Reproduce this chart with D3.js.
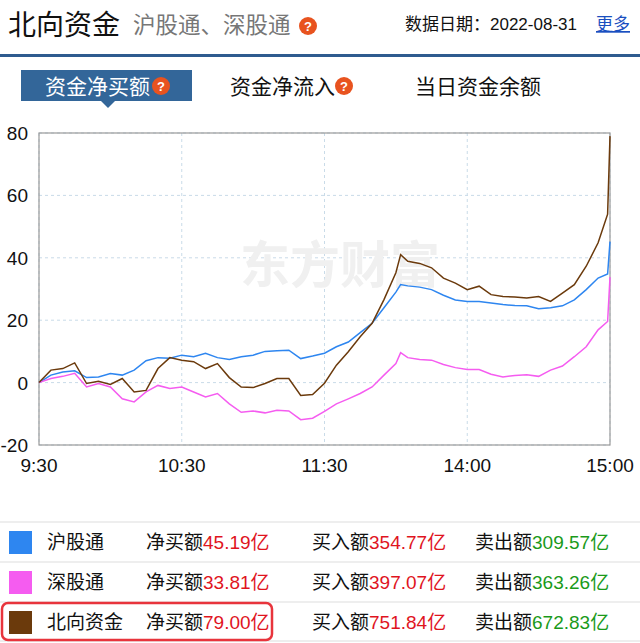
<!DOCTYPE html>
<html><head><meta charset="utf-8">
<script src="https://cdn.jsdelivr.net/npm/d3@7"></script>
<style>body{margin:0;background:#fff;font-family:"Liberation Sans","Noto Sans CJK SC",sans-serif;}</style>
</head><body>
<script>
// minutes from 9:30 (lunch break removed: 120 = 11:30/13:00)
var minutes = [0,5,10,15,20,25,30,35,40,45,50,55,60,65,70,75,80,85,90,95,100,105,110,115,120,
  125,130,135,140,145,150,152,155,160,165,170,175,180,185,190,195,200,205,210,215,220,225,230,235,239,240];
var shValues = [0,2.4,3.4,3.8,1.6,1.8,2.9,2.4,4,7,8,7.8,8.8,8.3,9.4,8,7.4,8.3,8.8,10,10.2,10.4,7.7,8.5,9.4,
  11.5,13,16,19,24,29,31.4,31,30.6,29.8,28,26.5,26,26,25.5,25,24.7,24.6,23.7,24,24.6,26.5,29.8,33.5,34.8,45.19];
var szValues = [0,1.3,2,3,-1.4,-0.3,-1.4,-5.2,-6.2,-3,-0.9,-1.9,-1.4,-3,-4.6,-3.5,-6.8,-9.5,-9.1,-9.7,-8.9,-9.1,-11.9,-11.4,-9.2,
  -6.8,-5.2,-3.5,-1.4,2.4,6.1,9.6,8,7.4,7.2,5.8,4.8,4.2,4.2,2.7,1.8,2.3,2.5,2,4,5.3,8.3,11.5,16.9,19.6,33.81];
var northValues = [0,4,4.5,6.3,-0.3,0.4,-0.6,1.3,-3,-2.5,4.5,8,7.2,6.7,4.5,6.1,1.6,-1.4,-1.6,-0.3,1.3,1.3,-4.1,-3.8,-0.2,
  5.6,9.9,14.7,19,26.6,35.2,41,38.9,38.2,36.8,33.5,31.9,29.8,30.9,28.2,27.6,27.4,27.1,27.6,26,28.7,31.4,37.3,44.8,54,79];
var yTicks = [-20,0,20,40,60,80];
var xTicks = [0,60,120,180,240];
var xTickLabels = ["9:30","10:30","11:30","14:00","15:00"];

var names = ["沪股通","深股通","北向资金"];
var colors = ["#2e86f0","#f55cf0","#6b3a0c"];
var netBuy = ["45.19","33.81","79.00"];
var buyIn = ["354.77","397.07","751.84"];
var sellOut = ["309.57","363.26","672.83"];
var tabs = ["资金净买额","资金净流入","当日资金余额"];

var svg = d3.select("body").append("svg").attr("width",640).attr("height",643);

// header
svg.append("text").attr("x",8).attr("y",35).attr("font-size",28).attr("fill","#111").text("北向资金");
svg.append("text").attr("x",133).attr("y",33).attr("font-size",22.5).attr("fill","#777").text("沪股通、深股通");
function qmark(x, y){
  svg.append("circle").attr("cx",x).attr("cy",y).attr("r",9).attr("fill","#e8531f");
  svg.append("text").attr("x",x).attr("y",y+5).attr("text-anchor","middle").attr("font-size",13)
    .attr("font-weight","bold").attr("fill","#fff").text("?");
}
qmark(308,26);
svg.append("text").attr("x",405).attr("y",30).attr("font-size",17).attr("fill","#111").text("数据日期：2022-08-31");
svg.append("text").attr("x",596).attr("y",30).attr("font-size",17).attr("fill","#1a4fc0")
  .attr("text-decoration","underline").text("更多");
svg.append("rect").attr("x",0).attr("y",54).attr("width",640).attr("height",3).attr("fill","#2f5b8f");

// tabs
svg.append("rect").attr("x",21).attr("y",70).attr("width",171).attr("height",31).attr("fill","#336699");
svg.append("path").attr("d","M101,101 L115,101 L108,108 Z").attr("fill","#336699");
var tabX = [45,230,415];
tabs.forEach(function(t,i){
  svg.append("text").attr("x",tabX[i]).attr("y",94).attr("font-size",21)
    .attr("fill", i==0 ? "#fff" : "#111").text(t);
});
qmark(161,86);
qmark(344,86);

// chart
var x = d3.scaleLinear().domain([0,240]).range([39,610]);
var y = d3.scaleLinear().domain([-20,80]).range([445,133]);

svg.append("g").selectAll("line.h").data(yTicks).enter().append("line")
  .attr("x1",39).attr("x2",610).attr("y1",function(d){return y(d);}).attr("y2",function(d){return y(d);})
  .attr("stroke","#c9dbe8").attr("stroke-dasharray","3,3");
svg.append("g").selectAll("line.v").data(xTicks).enter().append("line")
  .attr("y1",133).attr("y2",445).attr("x1",function(d){return x(d);}).attr("x2",function(d){return x(d);})
  .attr("stroke","#c9dbe8").attr("stroke-dasharray","3,3");

svg.append("text").attr("x",340).attr("y",283).attr("text-anchor","middle").attr("font-size",50)
  .attr("font-weight","bold").attr("fill","#f0f0f0").text("东方财富");

svg.append("rect").attr("x",39).attr("y",133).attr("width",571).attr("height",312)
  .attr("fill","none").attr("stroke","#999").attr("stroke-width",1.2);

svg.selectAll("text.yl").data(yTicks).enter().append("text")
  .attr("x",28).attr("y",function(d){return y(d)+7;}).attr("text-anchor","end")
  .attr("font-size",19).attr("fill","#111").text(function(d){return d;});
svg.selectAll("text.xl").data(xTicks).enter().append("text")
  .attr("x",function(d){return x(d);}).attr("y",472).attr("text-anchor","middle")
  .attr("font-size",19).attr("fill","#111").text(function(d,i){return xTickLabels[i];});

var line = d3.line().x(function(d){return x(d[0]);}).y(function(d){return y(d[1]);});
[shValues, szValues, northValues].forEach(function(vals,i){
  svg.append("path").attr("d", line(minutes.map(function(m,j){return [m, vals[j]];})))
    .attr("fill","none").attr("stroke",colors[i]).attr("stroke-width",1.5);
});

// legend table
var rowTop = [522,562,602];
svg.append("line").attr("x1",0).attr("x2",640).attr("y1",641).attr("y2",641).attr("stroke","#ddd");
names.forEach(function(n,i){
  var cy = rowTop[i]+20;
  svg.append("line").attr("x1",0).attr("x2",640).attr("y1",rowTop[i]).attr("y2",rowTop[i]).attr("stroke","#ddd");
  svg.append("rect").attr("x",9).attr("y",cy-11).attr("width",23).attr("height",23).attr("fill",colors[i]);
  svg.append("text").attr("x",47).attr("y",cy+7).attr("font-size",19).attr("fill","#111").text(n);
  var cols = [[146,"净买额",netBuy[i],"#e0141e"],[312,"买入额",buyIn[i],"#e0141e"],[475,"卖出额",sellOut[i],"#1a9a1a"]];
  cols.forEach(function(c){
    var t = svg.append("text").attr("x",c[0]).attr("y",cy+7).attr("font-size",19).attr("fill","#111");
    t.append("tspan").text(c[1]);
    t.append("tspan").attr("fill",c[3]).text(c[2]+"亿");
  });
});
svg.append("rect").attr("x",2).attr("y",603).attr("width",270).attr("height",37).attr("rx",6)
  .attr("fill","none").attr("stroke","#e8343c").attr("stroke-width",2.5);
</script>
</body></html>
